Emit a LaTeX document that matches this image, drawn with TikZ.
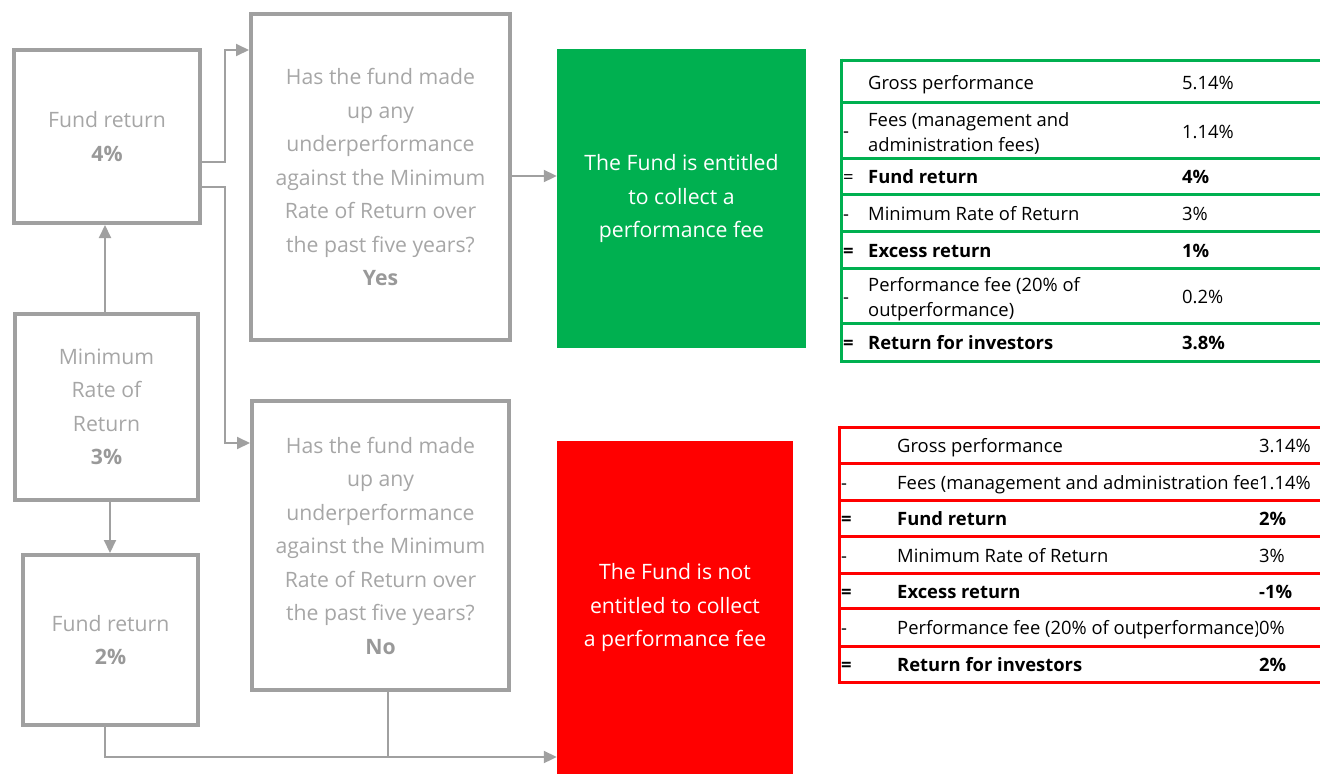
\documentclass[tikz,border=0pt]{standalone}
\usepackage{fontspec}
\setmainfont{Open Sans}
\usetikzlibrary{arrows.meta}
\definecolor{boxgray}{HTML}{A0A0A0}
\definecolor{txtgray}{HTML}{A6A6A6}
\definecolor{valgray}{HTML}{999999}
\definecolor{mygreen}{HTML}{00B050}
\definecolor{myred}{HTML}{FF0000}
\begin{document}
\begin{tikzpicture}[x=1pt,y=-1pt,
  qbox/.style={draw=boxgray, line width=4pt, inner sep=0pt, align=center, text=txtgray,
    font=\fontsize{21.2}{33.5}\selectfont},
  outbox/.style={inner sep=0pt, align=center, text=white, font=\fontsize{21.2}{33.5}\selectfont},
  conn/.style={draw=boxgray, line width=2pt},
  arr/.style={conn, -{Triangle[length=13pt,width=12pt]}},
  tcell/.style={anchor=west, inner sep=0pt, align=left, text=black, font=\fontsize{18.4}{25}\selectfont},
  tcellb/.style={tcell, anchor=base west},
  gline/.style={draw=mygreen, line width=3pt},
  rline/.style={draw=myred, line width=3pt}]
\useasboundingbox (0,0) rectangle (1320,774);

% flow boxes
\node[qbox, minimum width=186pt, minimum height=173pt] (A) at (107,136.5)
  {Fund return\\{\color{valgray}\bfseries 4\%}};
\node[qbox, minimum width=259pt, minimum height=326pt] (B) at (380.5,177)
  {Has the fund made\\up any\\underperformance\\against the Minimum\\Rate of Return over\\the past five years?\\{\color{valgray}\bfseries Yes}};
\node[qbox, minimum width=257pt, minimum height=289pt] (C) at (380.5,545.5)
  {Has the fund made\\up any\\underperformance\\against the Minimum\\Rate of Return over\\the past five years?\\{\color{valgray}\bfseries No}};
\node[qbox, minimum width=183pt, minimum height=186pt] (M) at (106.5,407)
  {Minimum\\Rate of\\Return\\{\color{valgray}\bfseries 3\%}};
\node[qbox, minimum width=175pt, minimum height=170pt] (D) at (110.5,640)
  {Fund return\\{\color{valgray}\bfseries 2\%}};
\node[outbox, fill=mygreen, minimum width=249pt, minimum height=299pt] (G) at (681.5,198.5)
  {The Fund is entitled\\to collect a\\performance fee};
\node[outbox, fill=myred, minimum width=236pt, minimum height=333pt] (R) at (675,607.5)
  {The Fund is not\\entitled to collect\\a performance fee};

% connectors
\draw[arr] (M.north -| 105,0) -- (A.south -| 105,0);
\draw[arr] (M.south -| 110,0) -- (D.north -| 110,0);
\draw[arr] (A.east |- 0,162) -- (225,162) |- (B.west |- 0,50);
\draw[arr] (A.east |- 0,187) -- (225,187) |- (C.west |- 0,443);
\draw[arr] (B.east |- 0,176) -- (G.west |- 0,176);
\draw[arr] (D.south -| 105,0) -- (105,757) -- (R.west |- 0,757);
\draw[conn] (C.south -| 388,0) -- (388,757);

% green table
\foreach \yy in {60,102,158,194,231,268,323,361} \draw[gline] (841,\yy) -- (1320,\yy);
\draw[gline] (841,58.5) -- (841,362.5);
\node[tcellb] (g1) at (868,89.5) {Gross performance};
\node[tcellb] (g1v) at (1182,89.5) {5.14\%};
\node[tcellb] (g2s) at (843,137.5) {-};
\node[tcell] (g2) at (868,133) {Fees (management and\\administration fees)};
\node[tcellb] (g2v) at (1182,138) {1.14\%};
\node[tcellb] (g3s) at (843,183.5) {=};
\node[tcellb] (g3) at (868,183.5) {\bfseries Fund return};
\node[tcellb] (g3v) at (1182,183.5) {\bfseries 4\%};
\node[tcellb] (g4s) at (843,220.5) {-};
\node[tcellb] (g4) at (868,220.5) {Minimum Rate of Return};
\node[tcellb] (g4v) at (1182,220.5) {3\%};
\node[tcellb] (g5s) at (843,257.5) {\bfseries =};
\node[tcellb] (g5) at (868,257.5) {\bfseries Excess return};
\node[tcellb] (g5v) at (1182,257.5) {\bfseries 1\%};
\node[tcellb] (g6s) at (843,303) {-};
\node[tcell] (g6) at (868,299) {Performance fee (20\% of\\outperformance)};
\node[tcellb] (g6v) at (1182,303) {0.2\%};
\node[tcellb] (g7s) at (843,349.5) {\bfseries =};
\node[tcellb] (g7) at (868,349.5) {\bfseries Return for investors};
\node[tcellb] (g7v) at (1182,349.5) {\bfseries 3.8\%};

% red table
\foreach \yy in {427,463,500,536,573,608,646,682} \draw[rline] (839,\yy) -- (1320,\yy);
\draw[rline] (839,425.5) -- (839,683.5);
\begin{scope}
\clip (890,420) rectangle (1257,690);
\node[tcellb] (r1) at (897,452.5) {Gross performance};
\node[tcellb] (r2) at (897,489.5) {Fees (management and administration fees)};
\node[tcellb] (r3) at (897,525.5) {\bfseries Fund return};
\node[tcellb] (r4) at (897,562.5) {Minimum Rate of Return};
\node[tcellb] (r5) at (897,598.5) {\bfseries Excess return};
\node[tcellb] (r6) at (897,634.5) {Performance fee (20\% of outperformance)};
\node[tcellb] (r7) at (897,671.5) {\bfseries Return for investors};
\end{scope}
\node[tcellb] (r1v) at (1259,452.5) {3.14\%};
\node[tcellb] (r2s) at (841,489.5) {-};
\node[tcellb] (r2v) at (1259,489.5) {1.14\%};
\node[tcellb] (r3s) at (841,525.5) {\bfseries =};
\node[tcellb] (r3v) at (1259,525.5) {\bfseries 2\%};
\node[tcellb] (r4s) at (841,562.5) {-};
\node[tcellb] (r4v) at (1259,562.5) {3\%};
\node[tcellb] (r5s) at (841,598.5) {\bfseries =};
\node[tcellb] (r5v) at (1259,598.5) {\bfseries -1\%};
\node[tcellb] (r6s) at (841,634.5) {-};
\node[tcellb] (r6v) at (1259,634.5) {0\%};
\node[tcellb] (r7s) at (841,671.5) {\bfseries =};
\node[tcellb] (r7v) at (1259,671.5) {\bfseries 2\%};
\end{tikzpicture}
\end{document}
